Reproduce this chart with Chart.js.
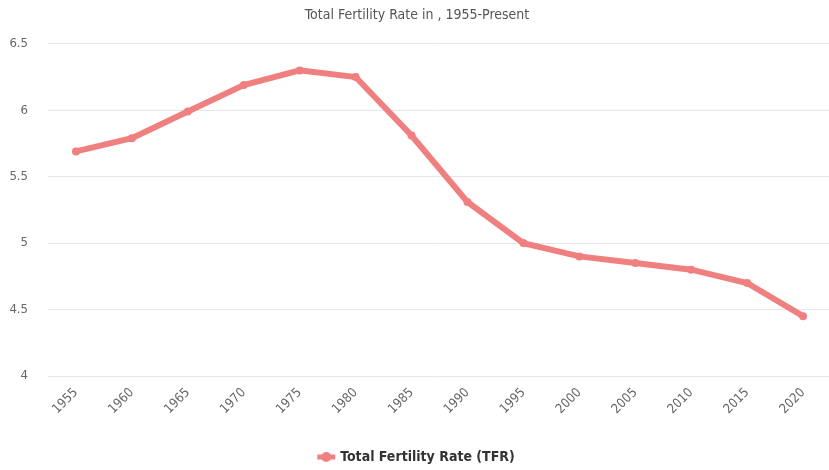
<!DOCTYPE html>
<html>
<head>
    <title>Total Fertility Rate</title>
    <script src="https://cdn.jsdelivr.net/npm/chart.js"></script>
    <style>
        html, body {
            margin: 0;
            padding: 0;
            overflow: hidden;
            background: #fff;
        }
        .container {
            width: 835px;
            height: 470px;
        }
    </style>
</head>
<body>
    <div class="container">
        <canvas id="chart" width="835" height="470"></canvas>
    </div>
    <script>
        var years = ['1955', '1960', '1965', '1970', '1975', '1980', '1985',
                     '1990', '1995', '2000', '2005', '2010', '2015', '2020'];
        var tfr = [5.69, 5.79, 5.99, 6.19, 6.30, 6.25, 5.81,
                   5.31, 5.00, 4.90, 4.85, 4.80, 4.70, 4.45];
        var yTicks = [4, 4.5, 5, 5.5, 6, 6.5];

        var lineColor = 'rgb(240, 128, 128)';
        var font = '"Liberation Sans Narrow", "DejaVu Sans Condensed", sans-serif';

        // legend symbol: short thick line with a dot in the middle
        var sym = document.createElement('canvas');
        sym.width = 20;
        sym.height = 12;
        var sctx = sym.getContext('2d');
        sctx.strokeStyle = lineColor;
        sctx.lineWidth = 5;
        sctx.beginPath();
        sctx.moveTo(1, 6);
        sctx.lineTo(19, 6);
        sctx.stroke();
        sctx.fillStyle = lineColor;
        sctx.beginPath();
        sctx.arc(10, 6, 5, 0, Math.PI * 2);
        sctx.fill();

        var ctx = document.getElementById('chart').getContext('2d');
        var chart = new Chart(ctx, {
            type: 'line',
            data: {
                labels: years,
                datasets: [{
                    label: 'Total Fertility Rate (TFR)',
                    data: tfr,
                    borderColor: lineColor,
                    backgroundColor: lineColor,
                    borderWidth: 6,
                    pointRadius: 4,
                    pointBackgroundColor: lineColor,
                    pointBorderWidth: 0,
                    tension: 0,
                    fill: false
                }]
            },
            options: {
                responsive: false,
                animation: false,
                layout: { padding: { top: 0, right: 1, bottom: -4, left: 0 } },
                plugins: {
                    title: {
                        display: true,
                        text: 'Total Fertility Rate in , 1955-Present',
                        color: '#555',
                        font: { family: font, size: 14, weight: 'normal' },
                        padding: { top: 7, bottom: 20 }
                    },
                    legend: {
                        position: 'bottom',
                        labels: {
                            usePointStyle: true,
                            pointStyle: sym,
                            color: '#333',
                            font: { family: font, size: 14, weight: 'bold' },
                            padding: 4
                        }
                    },
                    tooltip: { enabled: false }
                },
                scales: {
                    x: {
                        offset: true,
                        grid: { display: false, drawTicks: false },
                        border: { display: false },
                        ticks: {
                            color: '#666',
                            font: { family: font, size: 13 },
                            minRotation: 45,
                            maxRotation: 45,
                            autoSkip: false,
                            padding: 9
                        },
                        afterFit: function(scale) { scale.height = 70; }
                    },
                    y: {
                        min: 4,
                        max: 6.5,
                        afterBuildTicks: function(scale) {
                            scale.ticks = yTicks.map(function(v) { return { value: v }; });
                        },
                        grid: { color: '#e6e6e6', drawTicks: false },
                        border: { display: false },
                        ticks: {
                            color: '#666',
                            font: { family: font, size: 13 },
                            padding: 20,
                            callback: function(v) { return String(v); }
                        },
                        afterFit: function(scale) { scale.width = 48; }
                    }
                }
            }
        });
    </script>
</body>
</html>
